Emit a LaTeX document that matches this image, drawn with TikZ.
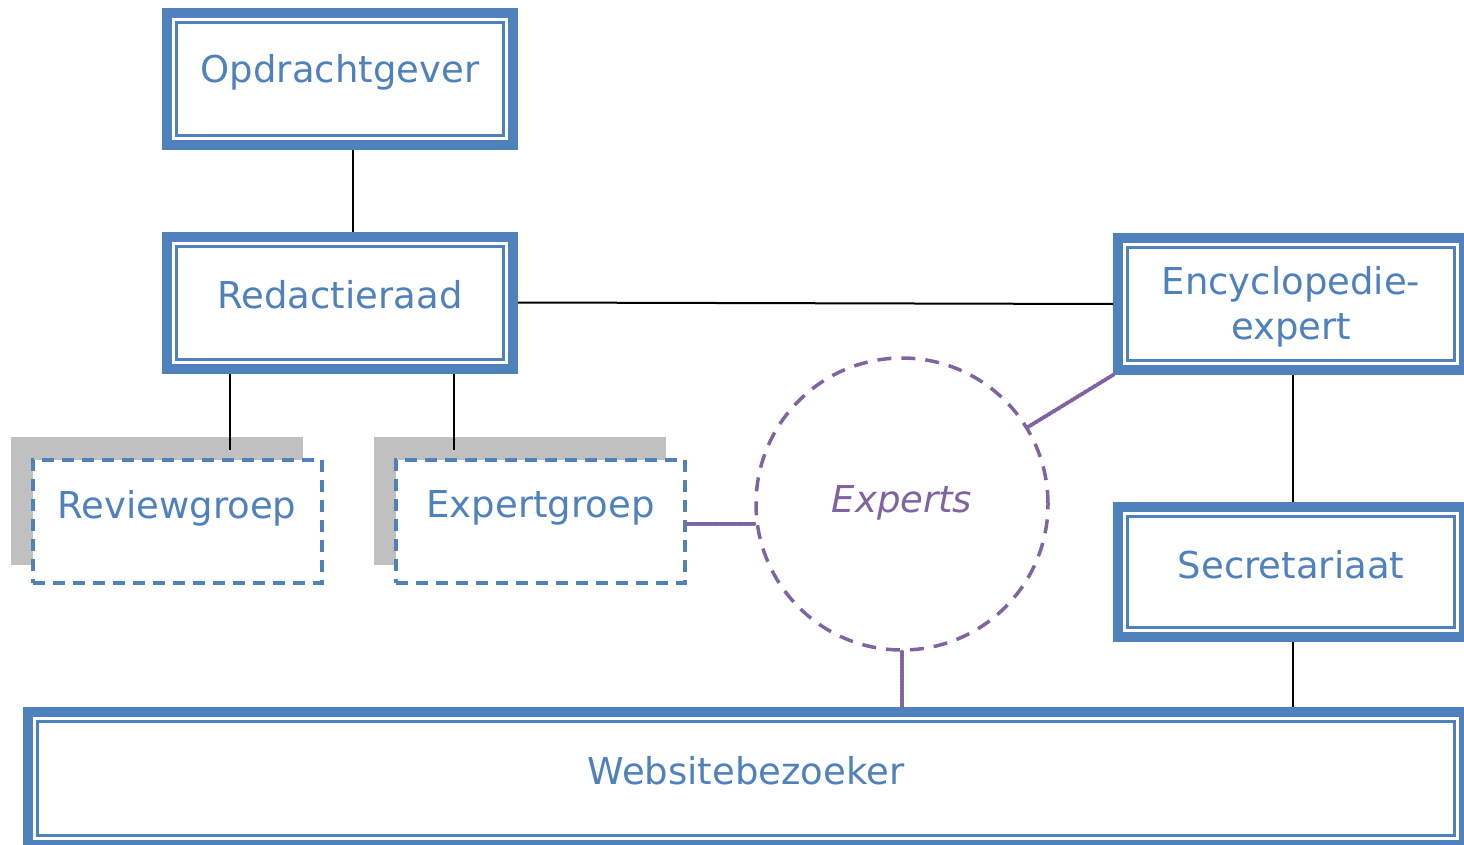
\documentclass[tikz,border=0pt]{standalone}
\usepackage{fontspec}
\setmainfont{DejaVu Sans}
\definecolor{obl}{HTML}{4F81BD}
\definecolor{opu}{HTML}{8064A2}
\definecolor{shd}{HTML}{C0C0C0}
\begin{document}
\begin{tikzpicture}[x=1pt,y=-1pt,
  mainbox/.style={draw=obl,line width=10pt,fill=white,inner sep=0pt,minimum width=346pt,minimum height=132pt,
    path picture={\draw[obl,line width=3pt] ([shift={(9.5pt,-9.5pt)}]path picture bounding box.north west) rectangle ([shift={(-9.5pt,9.5pt)}]path picture bounding box.south east);}},
  dashbox/.style={draw=obl,line width=4pt,dash pattern=on 12pt off 8pt,fill=white,inner sep=0pt,minimum width=289pt,minimum height=123pt},
  shadowbox/.style={fill=shd,inner sep=0pt,minimum width=292pt,minimum height=128pt},
  txt/.style={text=obl,font=\fontsize{37}{45}\selectfont,align=center,inner sep=0pt},
  link/.style={draw=black,line width=2pt},
  plink/.style={draw=opu,line width=4pt,line cap=round,dash pattern=on 1.2pt off 1.8pt},
]
\useasboundingbox (0,0) rectangle (1464,845);
% boxes
\node[mainbox] (opd) at (340,79) {};
\node[txt] (opdt) at (340,72) {Opdrachtgever};
\node[mainbox] (red) at (340,302.5) {};
\node[txt] (redt) at (340,295) {Redactieraad};
\node[mainbox] (enc) at (1291,304) {};
\node[txt] (enct) at (1291,307) {Encyclopedie-\\expert};
\node[mainbox,minimum height=130pt] (sec) at (1291,572) {};
\node[txt] (sect) at (1291,565) {Secretariaat};
\node[mainbox,minimum width=1436pt,minimum height=133pt] (web) at (746,778.5) {};
\node[txt] (webt) at (746,771) {Websitebezoeker};
% dashed groups with shadow
\node[shadowbox] (revs) at (157,501) {};
\node[dashbox] (rev) at (177,521.5) {};
\node[txt] (revt) at (177,508) {Reviewgroep};
\node[shadowbox] (exps2) at (520,501) {};
\node[dashbox] (exp) at (540.5,521.5) {};
\node[txt] (expt) at (540.5,508) {Expertgroep};
% experts circle
\node[circle,draw=opu,line width=3.5pt,dash pattern=on 14pt off 10pt,minimum size=292pt,inner sep=0pt] (exps) at (902,504) {};
\node[txt,text=opu,font=\fontsize{37}{45}\selectfont\itshape] (expst) at (902,503) {Experts};
% connectors
\draw[link] ([xshift=13pt]opd.south) -- ([xshift=13pt]red.north);
\draw[link] (red.east) -- (enc.west);
\draw[link,shorten >=8pt] ([xshift=-110pt]red.south) -- ([xshift=53pt]rev.north);
\draw[link,shorten >=8pt] ([xshift=114pt]red.south) -- ([xshift=-86.5pt]exp.north);
\draw[link] ([xshift=2pt]enc.south) -- ([xshift=2pt]sec.north);
\draw[link] ([xshift=2pt]sec.south) -- ([xshift=2pt]sec.south |- web.north);
\draw[plink] ([yshift=-2pt]exp.east) -- ([yshift=-2pt]exp.east -| exps.west);
\draw[plink] (exps) -- (enc.south west);
\draw[plink] (exps.south) -- (exps.south |- web.north);
\end{tikzpicture}
\end{document}
